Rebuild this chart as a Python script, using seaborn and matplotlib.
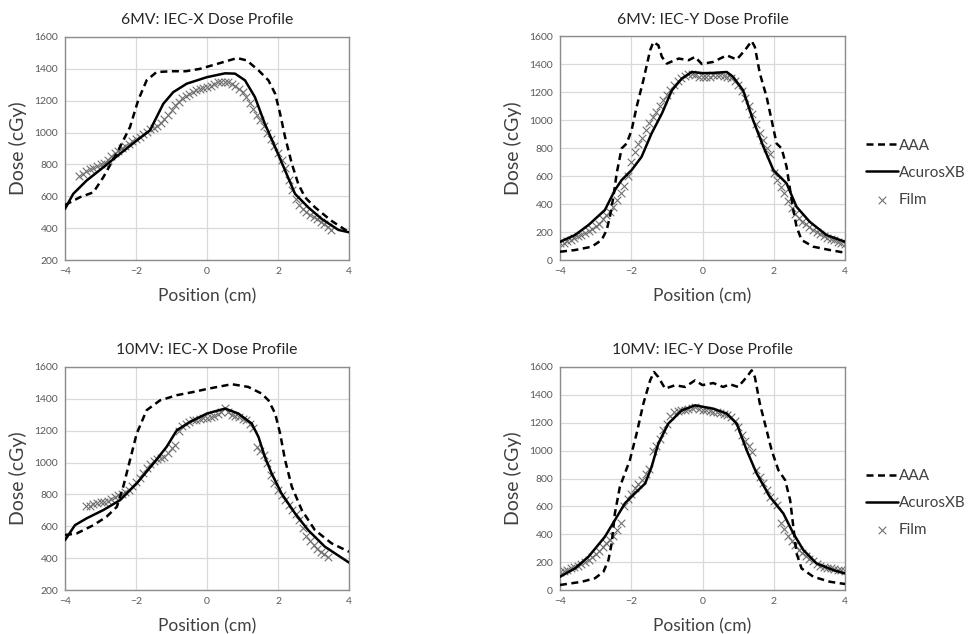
import numpy as np
import pandas as pd
import matplotlib
matplotlib.use("Agg")
import matplotlib.pyplot as plt
import seaborn as sns

# ---------------- data ----------------
titles = ["6MV: IEC-X Dose Profile", "6MV: IEC-Y Dose Profile",
          "10MV: IEC-X Dose Profile", "10MV: IEC-Y Dose Profile"]
series_names = ["AAA", "AcurosXB", "Film"]
x_ticks = [-4, -2, 0, 2, 4]
y_ticks_x = [200, 400, 600, 800, 1000, 1200, 1400, 1600]
y_ticks_y = [0, 200, 400, 600, 800, 1000, 1200, 1400, 1600]

# 6MV IEC-X
aaa_6x_x = [-4.0, -3.58, -3.2, -2.92, -2.5, -2.17, -1.94, -1.7, -1.42, -1.0, -0.6, -0.2, 0.3, 0.85, 1.12,
            1.45, 1.73, 1.92, 2.06, 2.2, 2.39, 2.57, 2.76, 3.04, 3.5, 4.0]
aaa_6x_y = [545, 594, 625, 720, 888, 1034, 1202, 1328, 1380, 1385, 1385, 1400, 1432, 1468, 1453,
            1391, 1328, 1244, 1118, 971, 804, 678, 594, 531, 447, 374]
axb_6x_x = [-4.0, -3.77, -3.39, -2.92, -2.45, -1.98, -1.61, -1.42, -1.23, -0.95, -0.57, 0.0, 0.51, 0.79,
            1.07, 1.35, 1.63, 1.92, 2.2, 2.48, 2.85, 3.23, 3.7, 4.0]
axb_6x_y = [521, 615, 699, 782, 867, 950, 1013, 1097, 1181, 1254, 1307, 1348, 1372, 1370,
            1328, 1223, 1055, 908, 762, 615, 531, 458, 389, 374]
film_6x_x = [-3.6, -3.5, -3.4, -3.3, -3.2, -3.1, -3.0, -2.9, -2.8, -2.7, -2.6, -2.5, -2.4, -2.3, -2.2,
             -2.1, -2.0, -1.9, -1.8, -1.7, -1.6, -1.5, -1.4, -1.3, -1.2, -1.1, -1.0, -0.9, -0.8, -0.7,
             -0.6, -0.5, -0.4, -0.3, -0.2, -0.1, 0.0, 0.1, 0.2, 0.3, 0.4, 0.5, 0.6, 0.7, 0.8, 0.9,
             1.0, 1.1, 1.2, 1.3, 1.4, 1.5, 1.6, 1.7, 1.8, 1.9, 2.0, 2.1, 2.2, 2.3, 2.4, 2.5, 2.6,
             2.7, 2.8, 2.9, 3.0, 3.1, 3.2, 3.3, 3.4, 3.5]
film_6x_y = [730, 740, 760, 770, 780, 790, 800, 810, 830, 850, 870, 885, 900, 915, 930,
             945, 960, 975, 990, 1005, 1020, 1030, 1040, 1060, 1085, 1110, 1140, 1170, 1195, 1215,
             1230, 1245, 1255, 1265, 1275, 1280, 1285, 1295, 1305, 1315, 1320, 1320, 1315, 1305, 1290, 1275,
             1255, 1225, 1185, 1145, 1110, 1080, 1040, 1000, 960, 915, 870, 830, 780, 700, 640, 580, 545,
             520, 500, 485, 470, 455, 440, 425, 405, 390]

# 6MV IEC-Y
aaa_6y_x = [-4.0, -3.58, -3.11, -2.83, -2.69, -2.6, -2.5, -2.41, -2.27, -2.13, -1.99, -1.85, -1.66, -1.47,
            -1.38, -1.24, -1.14, -1.0, -0.67, -0.39, -0.21, -0.02, 0.3, 0.68, 0.96, 1.19, 1.38, 1.47,
            1.61, 1.8, 1.94, 2.08, 2.22, 2.36, 2.46, 2.55, 2.64, 2.78, 3.11, 3.58, 4.0]
aaa_6y_y = [59, 71, 95, 143, 214, 309, 452, 618, 797, 832, 927, 1093, 1284, 1498,
            1557, 1534, 1451, 1403, 1439, 1427, 1451, 1400, 1415, 1462, 1432, 1498, 1564, 1522,
            1332, 1165, 999, 832, 797, 666, 499, 356, 238, 143, 95, 71, 52]
axb_6y_x = [-4.0, -3.58, -3.2, -2.74, -2.46, -2.27, -1.99, -1.71, -1.43, -1.14, -0.86, -0.58, -0.3, 0.0,
            0.3, 0.68, 0.86, 1.14, 1.42, 1.71, 1.99, 2.36, 2.64, 3.01, 3.48, 4.0]
axb_6y_y = [130, 178, 250, 357, 499, 571, 642, 737, 904, 1046, 1212, 1296, 1343, 1335,
            1336, 1343, 1308, 1212, 999, 809, 642, 547, 380, 273, 178, 130]
film_6y_x = [-4.0, -3.9, -3.8, -3.7, -3.6, -3.5, -3.4, -3.3, -3.2, -3.1, -3.0, -2.9, -2.8, -2.7, -2.6,
             -2.5, -2.4, -2.3, -2.2, -2.1, -2.0, -1.9, -1.8, -1.7, -1.6, -1.5, -1.4, -1.3, -1.2, -1.1,
             -1.0, -0.9, -0.8, -0.7, -0.6, -0.5, -0.4, -0.3, -0.2, -0.1, 0.0, 0.1, 0.2, 0.3, 0.4, 0.5,
             0.6, 0.7, 0.8, 0.9, 1.0, 1.1, 1.2, 1.3, 1.4, 1.5, 1.6, 1.7, 1.8, 1.9, 2.0, 2.1, 2.2,
             2.3, 2.4, 2.5, 2.6, 2.7, 2.8, 2.9, 3.0, 3.1, 3.2, 3.3, 3.4, 3.5, 3.6, 3.7, 3.8, 3.9, 4.0]
film_6y_y = [120, 125, 135, 145, 160, 170, 180, 195, 210, 225, 240, 260, 290, 320, 345,
             380, 430, 480, 530, 600, 700, 770, 830, 870, 930, 980, 1020, 1060, 1100, 1140,
             1180, 1215, 1250, 1280, 1300, 1315, 1325, 1325, 1320, 1310, 1305, 1305, 1310, 1320, 1320, 1320,
             1315, 1310, 1300, 1280, 1250, 1210, 1160, 1100, 1040, 970, 910, 860, 800, 760, 620, 570, 520,
             480, 420, 370, 330, 300, 275, 255, 235, 215, 200, 185, 170, 160, 150, 140, 130, 120, 115]

# 10MV IEC-X
aaa_10x_x = [-4.0, -3.67, -3.2, -2.83, -2.54, -2.36, -2.17, -1.98, -1.7, -1.32, -0.85, -0.39, 0.04, 0.7,
             1.16, 1.54, 1.73, 1.92, 2.06, 2.2, 2.39, 2.67, 3.04, 3.51, 4.0]
aaa_10x_y = [545, 555, 607, 660, 722, 848, 1015, 1182, 1329, 1391, 1423, 1443, 1464, 1492,
             1475, 1433, 1391, 1308, 1182, 1015, 848, 702, 576, 493, 440]
axb_10x_x = [-4.0, -3.72, -3.39, -2.92, -2.45, -1.98, -1.51, -1.14, -0.85, -0.48, 0.0, 0.51, 0.88, 1.26,
             1.45, 1.63, 1.82, 2.1, 2.48, 2.85, 3.32, 4.0]
axb_10x_y = [513, 607, 650, 702, 764, 869, 994, 1098, 1203, 1255, 1308, 1339, 1308, 1245,
             1161, 1036, 932, 806, 681, 576, 472, 372]
film_10x_x = [-3.4, -3.3, -3.2, -3.1, -3.0, -2.9, -2.8, -2.7, -2.6, -2.5, -2.4, -2.3, -2.2, -2.1, -2.0,
              -1.9, -1.8, -1.7, -1.6, -1.5, -1.4, -1.3, -1.2, -1.1, -1.0, -0.9, -0.8, -0.7, -0.6, -0.5,
              -0.4, -0.3, -0.2, -0.1, 0.0, 0.1, 0.2, 0.3, 0.4, 0.5, 0.6, 0.7, 0.8, 0.9, 1.0, 1.1,
              1.2, 1.3, 1.4, 1.5, 1.6, 1.7, 1.8, 1.9, 2.0, 2.1, 2.2, 2.3, 2.4, 2.5, 2.6, 2.7, 2.8,
              2.9, 3.0, 3.1, 3.2, 3.3, 3.4]
film_10x_y = [725, 730, 740, 745, 750, 755, 760, 770, 785, 795, 805, 815, 830, 850, 875,
              905, 935, 965, 990, 1010, 1025, 1030, 1035, 1060, 1090, 1110, 1200, 1230, 1240, 1255,
              1265, 1270, 1275, 1280, 1280, 1285, 1295, 1305, 1320, 1345, 1320, 1300, 1290, 1285, 1275, 1265,
              1245, 1215, 1100, 1075, 1045, 1000, 920, 870, 830, 795, 765, 735, 705, 675, 640, 590, 540,
              505, 480, 460, 440, 425, 410]

# 10MV IEC-Y
aaa_10y_x = [-4.0, -3.39, -3.02, -2.78, -2.64, -2.55, -2.46, -2.32, -2.18, -2.04, -1.85, -1.66, -1.47,
             -1.36, -1.24, -1.05, -0.77, -0.49, -0.21, 0.0, 0.3, 0.58, 0.77, 1.0, 1.24, 1.38, 1.47,
             1.61, 1.8, 1.94, 2.13, 2.32, 2.46, 2.55, 2.64, 2.78, 3.11, 3.58, 4.0]
aaa_10y_y = [36, 59, 84, 131, 215, 334, 549, 740, 836, 931, 1122, 1337, 1504,
             1564, 1528, 1445, 1469, 1457, 1504, 1470, 1485, 1457, 1476, 1457, 1528, 1576, 1528,
             1337, 1146, 1003, 860, 788, 645, 453, 263, 155, 95, 59, 43]
axb_10y_x = [-4.0, -3.58, -3.2, -2.74, -2.46, -2.18, -1.9, -1.61, -1.43, -1.24, -0.96, -0.58, -0.21, 0.0,
             0.3, 0.68, 0.96, 1.24, 1.52, 1.89, 2.27, 2.55, 2.83, 3.2, 3.67, 4.0]
axb_10y_y = [95, 155, 239, 382, 501, 621, 693, 764, 883, 1050, 1194, 1289, 1325, 1315,
             1301, 1266, 1194, 1003, 836, 669, 549, 406, 287, 191, 143, 119]
film_10y_x = [-4.0, -3.9, -3.8, -3.7, -3.6, -3.5, -3.4, -3.3, -3.2, -3.1, -3.0, -2.9, -2.8, -2.7, -2.6,
              -2.5, -2.4, -2.3, -2.2, -2.1, -2.0, -1.9, -1.8, -1.7, -1.6, -1.5, -1.4, -1.3, -1.2, -1.1,
              -1.0, -0.9, -0.8, -0.7, -0.6, -0.5, -0.4, -0.3, -0.2, -0.1, 0.0, 0.1, 0.2, 0.3, 0.4, 0.5,
              0.6, 0.7, 0.8, 0.9, 1.0, 1.1, 1.2, 1.3, 1.4, 1.5, 1.6, 1.7, 1.8, 1.9, 2.0, 2.1, 2.2,
              2.3, 2.4, 2.5, 2.6, 2.7, 2.8, 2.9, 3.0, 3.1, 3.2, 3.3, 3.4, 3.5, 3.6, 3.7, 3.8, 3.9, 4.0]
film_10y_y = [130, 135, 145, 155, 165, 175, 185, 200, 215, 235, 255, 280, 310, 335, 360,
              390, 430, 480, 600, 650, 690, 730, 760, 790, 830, 870, 1000, 1030, 1080, 1150,
              1190, 1250, 1275, 1285, 1290, 1295, 1300, 1305, 1310, 1300, 1290, 1290, 1285, 1280, 1275, 1270,
              1265, 1255, 1240, 1210, 1170, 1110, 1070, 1030, 990, 860, 810, 765, 720, 670, 635, 610, 480,
              440, 385, 350, 320, 290, 265, 245, 225, 205, 185, 175, 165, 160, 155, 150, 145, 140, 135]

panels = [
    (aaa_6x_x, aaa_6x_y, axb_6x_x, axb_6x_y, film_6x_x, film_6x_y, y_ticks_x),
    (aaa_6y_x, aaa_6y_y, axb_6y_x, axb_6y_y, film_6y_x, film_6y_y, y_ticks_y),
    (aaa_10x_x, aaa_10x_y, axb_10x_x, axb_10x_y, film_10x_x, film_10x_y, y_ticks_x),
    (aaa_10y_x, aaa_10y_y, axb_10y_x, axb_10y_y, film_10y_x, film_10y_y, y_ticks_y),
]

# ---------------- style ----------------
sns.set_style("white")
plt.rcParams["font.family"] = ["Lato", "DejaVu Sans"]

fig = plt.figure(figsize=(9.69, 6.34), dpi=100)
boxes = [
    [65 / 969, 1 - 260 / 634, 284 / 969, 223 / 634],
    [560 / 969, 1 - 260 / 634, 285 / 969, 224 / 634],
    [65 / 969, 1 - 590 / 634, 284 / 969, 223 / 634],
    [560 / 969, 1 - 590 / 634, 285 / 969, 223 / 634],
]

text_col = "#404040"
for i, (ax_, ay_, bx_, by_, fx_, fy_, yt) in enumerate(panels):
    ax = fig.add_axes(boxes[i])
    ax.grid(True, color="#d9d9d9", lw=0.9, zorder=0)
    ax.set_axisbelow(True)
    d_aaa = pd.DataFrame({"x": ax_, "y": ay_})
    d_axb = pd.DataFrame({"x": bx_, "y": by_})
    d_film = pd.DataFrame({"x": fx_, "y": fy_})
    sns.scatterplot(data=d_film, x="x", y="y", ax=ax, marker="x", s=30, color="#707070",
                    linewidth=0.8, label=series_names[2], zorder=2, legend=False)
    sns.lineplot(data=d_aaa, x="x", y="y", ax=ax, color="black", lw=1.8, sort=False,
                 estimator=None, linestyle=(0, (2.8, 1.8)), label=series_names[0], zorder=3, legend=False)
    sns.lineplot(data=d_axb, x="x", y="y", ax=ax, color="black", lw=1.8, sort=False,
                 estimator=None, label=series_names[1], zorder=4, legend=False)
    ax.set_xlim(-4, 4)
    ax.set_ylim(yt[0], yt[-1])
    ax.set_xticks(x_ticks)
    ax.set_yticks(yt)
    ax.tick_params(axis="both", labelsize=7.5, colors="#595959", length=0, pad=5)
    for sp in ax.spines.values():
        sp.set_color("#8c8c8c")
        sp.set_linewidth(1.0)
    ax.set_title(titles[i], fontsize=11.3, color="#262626", pad=9)
    ax.set_xlabel("Position (cm)", fontsize=12.5, color=text_col, labelpad=9)
    ax.set_ylabel("Dose (cGy)", fontsize=14, color=text_col, labelpad=5)
    if i in (1, 3):
        h, l = ax.get_legend_handles_labels()
        order = [l.index(n) for n in series_names]
        ax.legend([h[k] for k in order], [l[k] for k in order], loc="center left",
                  bbox_to_anchor=(1.074, 0.39), frameon=False, fontsize=11,
                  handlelength=2.1, handletextpad=0.05, labelspacing=0.85,
                  borderpad=0, borderaxespad=0, labelcolor=text_col)

fig.savefig("out.png", dpi=100)
